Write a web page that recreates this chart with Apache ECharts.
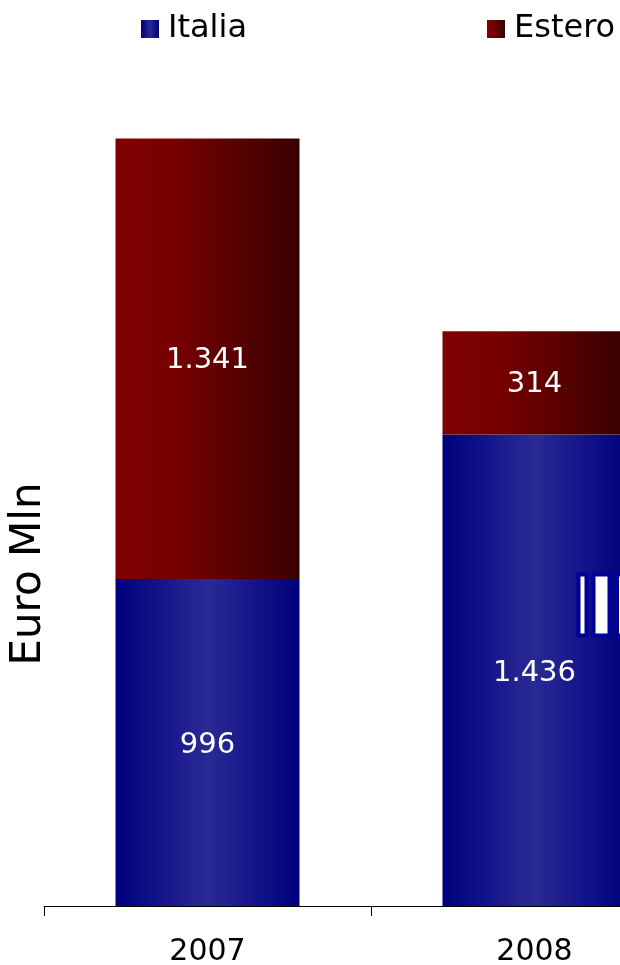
<!DOCTYPE html>
<html>
<head>
<meta charset="utf-8">
<script src="https://cdn.jsdelivr.net/npm/echarts@6/dist/echarts.min.js"></script>
<style>
html,body{margin:0;padding:0;overflow:hidden;background:#fff;width:620px;height:965px;}
#c{width:700px;height:965px;}
</style>
</head>
<body>
<div id="c"></div>
<script>
const categories = ['2007', '2008'];
const italia = [996, 1436];
const estero = [1341, 314];
const seriesNames = ['Italia', 'Estero'];
const axisTitle = 'Euro Mln';

function fmt(v) {
  return String(v).replace(/\B(?=(\d{3})+(?!\d))/g, '.');
}
const FONT = 'DejaVu Sans';
const blueGrad = new echarts.graphic.LinearGradient(0, 0, 1, 0, [
  {offset: 0, color: '#00007e'},
  {offset: 0.5, color: '#2a2a95'},
  {offset: 1, color: '#00007e'}
]);
const redGrad = new echarts.graphic.LinearGradient(0, 0, 1, 0, [
  {offset: 0, color: '#800000'},
  {offset: 0.3, color: '#780000'},
  {offset: 1, color: '#380000'}
]);
const chart = echarts.init(document.getElementById('c'), null, {renderer: 'canvas'});
chart.setOption({
  animation: false,
  backgroundColor: '#fff',
  legend: [
    {data: [seriesNames[0]], left: 141, top: 13, padding: 0, itemWidth: 18, itemHeight: 18, icon: 'rect',
     textStyle: {fontFamily: FONT, fontSize: 32, color: '#000', padding: [0, 0, 0, 4]}},
    {data: [seriesNames[1]], left: 487, top: 13, padding: 0, itemWidth: 18, itemHeight: 18, icon: 'rect',
     textStyle: {fontFamily: FONT, fontSize: 32, color: '#000', padding: [0, 0, 0, 4]}}
  ],
  grid: {left: 44, right: 2, top: 85, bottom: 59, containLabel: false, outerBoundsMode: 'none'},
  xAxis: {
    type: 'category', data: categories,
    axisLine: {lineStyle: {color: '#000', width: 1}},
    axisTick: {show: true, length: 10, lineStyle: {color: '#000'}},
    axisLabel: {fontFamily: FONT, fontSize: 30, color: '#000', margin: 31}
  },
  yAxis: {
    type: 'value', min: 0, max: 2500,
    axisLine: {show: false}, axisTick: {show: false}, axisLabel: {show: false},
    splitLine: {show: false}
  },
  graphic: [
    {type: 'text', x: 29, y: 574, rotation: Math.PI / 2,
     style: {text: axisTitle, fontFamily: FONT, fontSize: 42, fill: '#000', align: 'center', verticalAlign: 'middle'}},
    {type: 'rect', shape: {x: 578.5, y: 574.5, width: 8, height: 61}, style: {fill: '#fff', stroke: '#00009a', lineWidth: 4}, z: 100},
    {type: 'rect', shape: {x: 593.5, y: 574.5, width: 16, height: 61}, style: {fill: '#fff', stroke: '#00009a', lineWidth: 4}, z: 100},
    {type: 'rect', shape: {x: 617, y: 574.5, width: 16, height: 61}, style: {fill: '#fff', stroke: '#00009a', lineWidth: 4}, z: 100}
  ],
  series: [
    {name: seriesNames[0], type: 'bar', stack: 's', data: italia, barWidth: 184,
     itemStyle: {color: blueGrad},
     label: {show: true, position: 'inside', color: '#fff', fontFamily: FONT, fontSize: 29,
             offset: [0, 3], formatter: p => fmt(p.value)}},
    {name: seriesNames[1], type: 'bar', stack: 's', data: estero, barWidth: 184,
     itemStyle: {color: redGrad},
     label: {show: true, position: 'inside', color: '#fff', fontFamily: FONT, fontSize: 29,
             offset: [0, 2], formatter: p => fmt(p.value)}}
  ]
});
</script>
</body>
</html>
